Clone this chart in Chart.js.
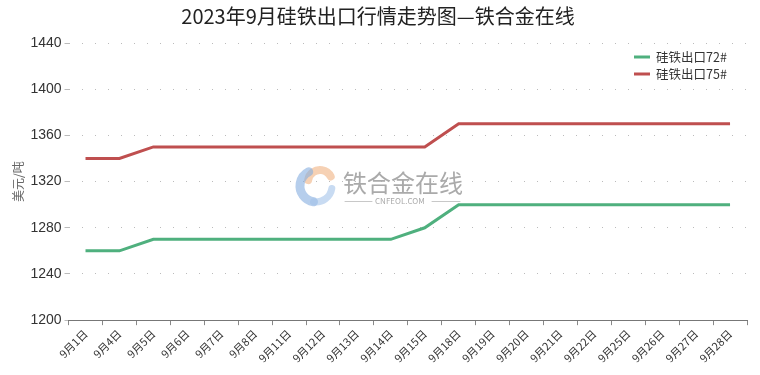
<!DOCTYPE html>
<html><head><meta charset="utf-8">
<script src="https://cdn.jsdelivr.net/npm/chart.js@4"></script>
<style>html,body{margin:0;padding:0;background:#fff}#wrap{width:760px;height:375px}</style>
</head><body><div id="wrap"><canvas id="c" width="760" height="375"></canvas></div>
<script>
const categories = ["9月1日","9月4日","9月5日","9月6日","9月7日","9月8日","9月11日","9月12日","9月13日","9月14日","9月15日","9月18日","9月19日","9月20日","9月21日","9月22日","9月25日","9月26日","9月27日","9月28日"];
const series72 = [1260,1260,1270,1270,1270,1270,1270,1270,1270,1270,1280,1300,1300,1300,1300,1300,1300,1300,1300,1300];
const series75 = [1340,1340,1350,1350,1350,1350,1350,1350,1350,1350,1350,1370,1370,1370,1370,1370,1370,1370,1370,1370];
const yTicks = [1200,1240,1280,1320,1360,1400,1440];
const FONT = '"Noto Sans CJK SC", "Noto Sans", sans-serif';

const legendPlugin = {
  id: 'customLegend',
  afterDraw(chart) {
    const ctx = chart.ctx;
    ctx.save();
    chart.data.datasets.forEach((ds, i) => {
      const y = 57 + i * 17;
      ctx.strokeStyle = ds.borderColor;
      ctx.lineWidth = 3;
      ctx.beginPath(); ctx.moveTo(634, y); ctx.lineTo(650, y); ctx.stroke();
      ctx.fillStyle = '#333';
      ctx.font = '12.5px ' + FONT;
      ctx.textBaseline = 'middle';
      ctx.fillText(ds.label, 656, y);
    });
    ctx.restore();
  }
};

const watermarkPlugin = {
  id: 'watermark',
  beforeDatasetsDraw(chart) {
    const ctx = chart.ctx;
    ctx.save();
    const cx = 316, cy = 186;
    ctx.lineCap = 'round';
    ctx.globalAlpha = 0.6;
    ctx.strokeStyle = '#f0b282'; ctx.lineWidth = 8;
    ctx.beginPath(); ctx.arc(cx + 4, cy - 4, 12, Math.PI * 1.05, Math.PI * 1.85); ctx.stroke();
    ctx.strokeStyle = '#86ade0'; ctx.lineWidth = 9;
    ctx.beginPath(); ctx.arc(cx, cy, 16, Math.PI * 0.55, Math.PI * 1.35); ctx.stroke();
    ctx.strokeStyle = '#a4c3ea'; ctx.lineWidth = 7;
    ctx.beginPath(); ctx.arc(cx, cy, 16, Math.PI * 0.05, Math.PI * 0.55); ctx.stroke();
    ctx.globalAlpha = 1;
    ctx.fillStyle = '#aaaaaa';
    ctx.font = '24px ' + FONT;
    ctx.textBaseline = 'middle';
    ctx.fillText('铁合金在线', 343, 183);
    ctx.font = '8px ' + FONT;
    ctx.fillText('CNFEOL.COM', 375, 201);
    ctx.strokeStyle = '#c8c8c8'; ctx.lineWidth = 1;
    ctx.beginPath(); ctx.moveTo(345, 201.5); ctx.lineTo(372, 201.5); ctx.moveTo(432, 201.5); ctx.lineTo(460, 201.5); ctx.stroke();
    ctx.restore();
  }
};

new Chart(document.getElementById('c'), {
  type: 'line',
  data: {
    labels: categories,
    datasets: [
      { label: '硅铁出口72#', data: series72, borderColor: '#4fb07e', backgroundColor: '#4fb07e', borderWidth: 3, pointRadius: 0, tension: 0 },
      { label: '硅铁出口75#', data: series75, borderColor: '#bf4f4f', backgroundColor: '#bf4f4f', borderWidth: 3, pointRadius: 0, tension: 0 }
    ]
  },
  options: {
    responsive: false,
    animation: false,
    layout: { padding: { left: 9, right: 13, top: 0, bottom: 8 } },
    plugins: {
      legend: { display: false },
      tooltip: { enabled: false },
      title: { display: true, text: '2023年9月硅铁出口行情走势图—铁合金在线', color: '#222', font: { family: FONT, size: 20, weight: 'normal' }, padding: { top: 4, bottom: 15 } }
    },
    scales: {
      x: {
        offset: true,
        grid: { display: true, drawOnChartArea: false, drawTicks: true, tickLength: 5, offset: true, color: '#888' },
        border: { display: true, color: '#777', width: 1 },
        ticks: { color: '#333', font: { family: FONT, size: 11 }, minRotation: 45, maxRotation: 45, autoSkip: false, padding: 2 }
      },
      y: {
        min: 1200, max: 1440,
        afterBuildTicks(axis) { axis.ticks = yTicks.map(v => ({ value: v })); },
        border: { display: false, dash: [1, 12] },
        grid: { color: '#bbb', lineWidth: 1, drawTicks: true, tickLength: 4, tickBorderDash: [], tickColor: '#bbb' },
        ticks: { color: '#333', font: { family: '"Liberation Sans", Arial, sans-serif', size: 14 }, padding: 3, callback: v => String(v) },
        title: { display: true, text: '美元/吨', color: '#666', font: { family: FONT, size: 12 }, padding: 2 }
      }
    }
  },
  plugins: [legendPlugin, watermarkPlugin]
});
</script>
</body></html>
